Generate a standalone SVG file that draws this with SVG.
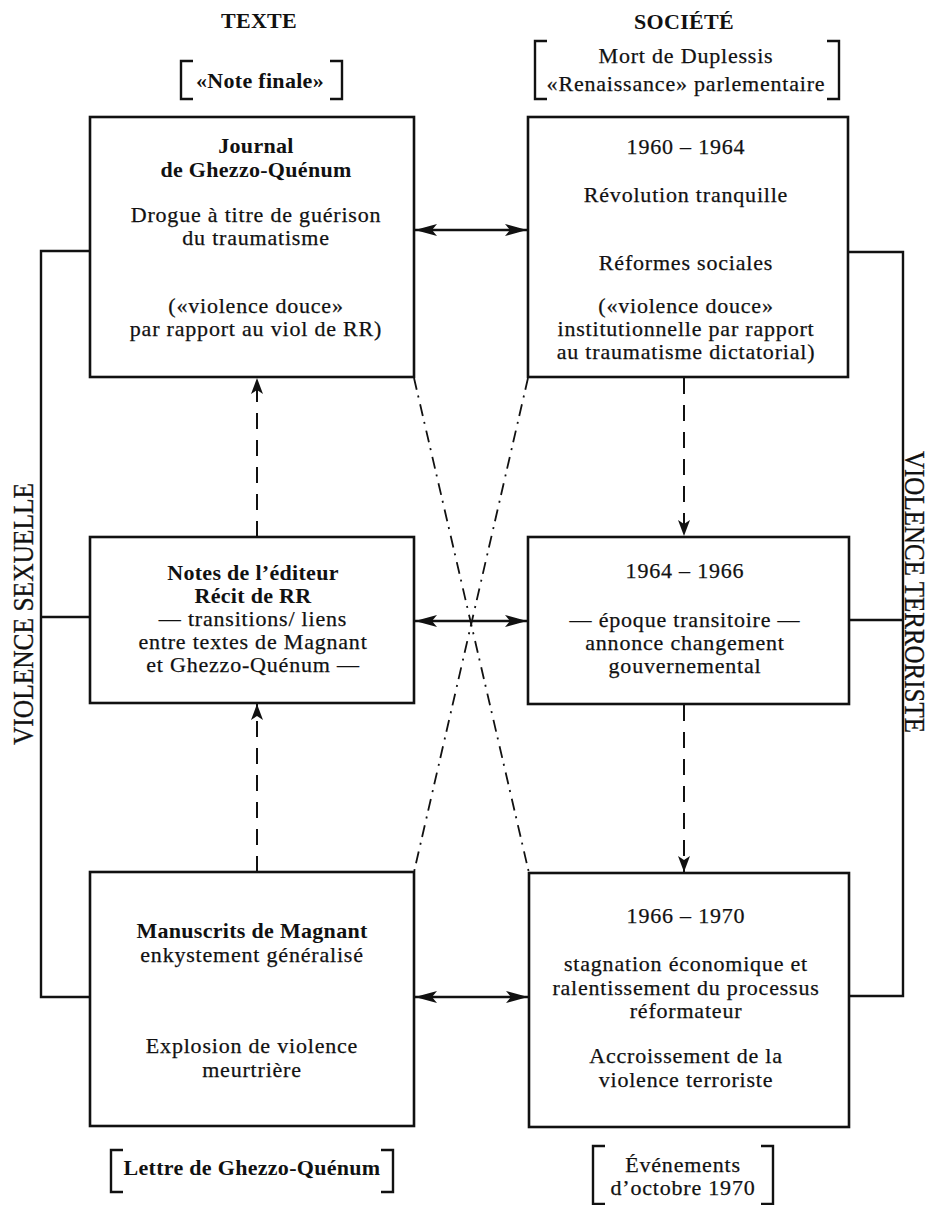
<svg xmlns="http://www.w3.org/2000/svg" width="932" height="1205" viewBox="0 0 932 1205">
<style>
  text { font-family: "Liberation Serif", "Times New Roman", serif; fill: #111; text-anchor: middle; }
  .t { font-size: 22px; letter-spacing: 0.8px; stroke: #111; stroke-width: 0.25; }
  .b { font-size: 22px; font-weight: bold; letter-spacing: 0.3px; }
  .box { fill: #fff; stroke: #111; stroke-width: 2.6; }
  .ln { fill: none; stroke: #111; stroke-width: 2.4; }
  .brk { fill: none; stroke: #111; stroke-width: 2.4; }
  .arr { fill: none; stroke: #111; stroke-width: 2.4; }
  .dash { fill: none; stroke: #111; stroke-width: 2; stroke-dasharray: 16 11; }
  .dd { fill: none; stroke: #111; stroke-width: 1.8; stroke-dasharray: 12 6 2 7; }
  .side { font-size: 30px; letter-spacing: 0; stroke: #111; stroke-width: 0.3; }
</style>
<defs>
  <marker id="ah" viewBox="0 0 22 12" refX="22" refY="6" markerWidth="22" markerHeight="12" markerUnits="userSpaceOnUse" orient="auto-start-reverse">
    <path d="M0,0 L22,6 L0,12 L5,6 Z" fill="#111"/>
  </marker>
  <marker id="ahd" viewBox="0 0 16 12" refX="16" refY="6" markerWidth="16" markerHeight="12" markerUnits="userSpaceOnUse" orient="auto">
    <path d="M0,0 L16,6 L0,12 L4,6 Z" fill="#111"/>
  </marker>
</defs>

<g id="headers">
  <text class="b" x="259" y="28">TEXTE</text>
  <text class="b" x="684" y="29">SOCIÉTÉ</text>
</g>

<g id="note-finale">
  <path class="brk" d="M193,61 H181 V99 H193 M330,61 H342 V99 H330"/>
  <text class="b" x="260" y="88">«Note finale»</text>
</g>

<g id="duplessis">
  <path class="brk" d="M547,41 H535 V99 H547 M827,41 H839 V99 H827"/>
  <text class="t" x="686" y="63">Mort de Duplessis</text>
  <text class="t" x="686" y="91">«Renaissance» parlementaire</text>
</g>

<g id="connectors">
  <path class="ln" d="M90,251 H41 V997 H90 M41,617 H90"/>
  <path class="ln" d="M848,252 H903 V996 H849 M849,620 H903"/>
  <line class="arr" x1="415" y1="230" x2="527" y2="230" marker-start="url(#ah)" marker-end="url(#ah)"/>
  <line class="arr" x1="415" y1="621" x2="527" y2="621" marker-start="url(#ah)" marker-end="url(#ah)"/>
  <line class="arr" x1="415" y1="997" x2="528" y2="997" marker-start="url(#ah)" marker-end="url(#ah)"/>
  <line class="dash" x1="257" y1="872" x2="257" y2="704" marker-end="url(#ahd)"/>
  <line class="dash" x1="257" y1="537" x2="257" y2="378" marker-end="url(#ahd)"/>
  <line class="dash" x1="684" y1="378" x2="684" y2="536" marker-end="url(#ahd)"/>
  <line class="dash" x1="684" y1="705" x2="684" y2="872" marker-end="url(#ahd)"/>
  <line class="dd" x1="414" y1="378" x2="529" y2="873"/>
  <line class="dd" x1="528" y1="378" x2="414" y2="872"/>
</g>

<g id="violence-sexuelle">
  <text class="side" transform="translate(33,614) rotate(-90)" textLength="262" lengthAdjust="spacingAndGlyphs">VIOLENCE SEXUELLE</text>
</g>
<g id="violence-terroriste">
  <text class="side" transform="translate(905,592) rotate(90)" textLength="282" lengthAdjust="spacingAndGlyphs">VIOLENCE TERRORISTE</text>
</g>

<g id="journal">
  <rect class="box" x="90" y="117" width="324" height="260"/>
  <text class="b" x="256" y="153">Journal</text>
  <text class="b" x="256" y="177">de Ghezzo-Quénum</text>
  <text class="t" x="256" y="222">Drogue à titre de guérison</text>
  <text class="t" x="256" y="245">du traumatisme</text>
  <text class="t" x="256" y="313">(«violence douce»</text>
  <text class="t" x="256" y="336">par rapport au viol de RR)</text>
</g>

<g id="p1960">
  <rect class="box" x="528" y="117" width="320" height="260"/>
  <text class="t" x="686" y="154">1960 – 1964</text>
  <text class="t" x="686" y="202">Révolution tranquille</text>
  <text class="t" x="686" y="270">Réformes sociales</text>
  <text class="t" x="686" y="313">(«violence douce»</text>
  <text class="t" x="686" y="336">institutionnelle par rapport</text>
  <text class="t" x="686" y="359">au traumatisme dictatorial)</text>
</g>

<g id="notes">
  <rect class="box" x="90" y="537" width="324" height="166"/>
  <text class="b" x="253" y="580">Notes de l’éditeur</text>
  <text class="b" x="253" y="603">Récit de RR</text>
  <text class="t" x="253" y="626">— transitions/ liens</text>
  <text class="t" x="253" y="649">entre textes de Magnant</text>
  <text class="t" x="253" y="672">et Ghezzo-Quénum —</text>
</g>

<g id="p1964">
  <rect class="box" x="528" y="537" width="321" height="167"/>
  <text class="t" x="685" y="578">1964 – 1966</text>
  <text class="t" x="685" y="627">— époque transitoire —</text>
  <text class="t" x="685" y="650">annonce changement</text>
  <text class="t" x="685" y="673">gouvernemental</text>
</g>

<g id="manuscrits">
  <rect class="box" x="90" y="872" width="324" height="254"/>
  <text class="b" x="252" y="938">Manuscrits de Magnant</text>
  <text class="t" x="252" y="962">enkystement généralisé</text>
  <text class="t" x="252" y="1053">Explosion de violence</text>
  <text class="t" x="252" y="1077">meurtrière</text>
</g>

<g id="p1966">
  <rect class="box" x="529" y="873" width="320" height="254"/>
  <text class="t" x="686" y="923">1966 – 1970</text>
  <text class="t" x="686" y="971">stagnation économique et</text>
  <text class="t" x="686" y="995">ralentissement du processus</text>
  <text class="t" x="686" y="1018">réformateur</text>
  <text class="t" x="686" y="1063">Accroissement de la</text>
  <text class="t" x="686" y="1087">violence terroriste</text>
</g>

<g id="lettre">
  <path class="brk" d="M123,1150 H111 V1192 H123 M381,1150 H393 V1192 H381"/>
  <text class="b" x="252" y="1175">Lettre de Ghezzo-Quénum</text>
</g>

<g id="evenements">
  <path class="brk" d="M605,1146 H593 V1204 H605 M761,1146 H773 V1204 H761"/>
  <text class="t" x="683" y="1172">Événements</text>
  <text class="t" x="683" y="1195">d’octobre 1970</text>
</g>
</svg>
